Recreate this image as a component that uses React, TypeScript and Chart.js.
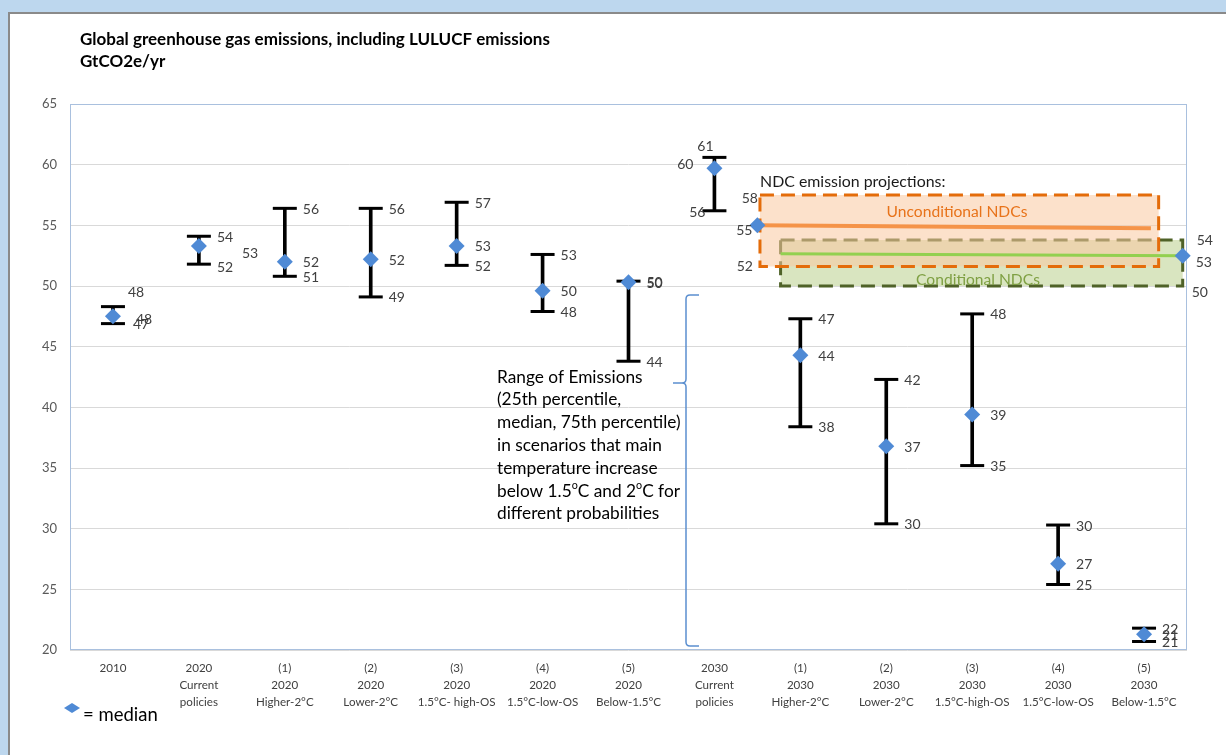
import React, { useEffect, useRef } from "react";
import { Chart, registerables } from "chart.js";

Chart.register(...registerables);

const FONT = "Lato, 'Open Sans', Arial, sans-serif";

// ---------- data ----------
const categories: string[][] = [
  ["2010"],
  ["2020", "Current", "policies"],
  ["(1)", "2020", "Higher-2°C"],
  ["(2)", "2020", "Lower-2°C"],
  ["(3)", "2020", "1.5°C- high-OS"],
  ["(4)", "2020", "1.5°C-low-OS"],
  ["(5)", "2020", "Below-1.5°C"],
  ["2030", "Current", "policies"],
  ["(1)", "2030", "Higher-2°C"],
  ["(2)", "2030", "Lower-2°C"],
  ["(3)", "2030", "1.5°C-high-OS"],
  ["(4)", "2030", "1.5°C-low-OS"],
  ["(5)", "2030", "Below-1.5°C"],
];

const p75 = [48.3, 54.1, 56.4, 56.4, 56.9, 52.6, 50.4, 60.6, 47.3, 42.3, 47.7, 30.3, 21.8];
const medians = [47.5, 53.3, 52.0, 52.2, 53.3, 49.6, 50.3, 59.7, 44.3, 36.8, 39.4, 27.1, 21.3];
const p25 = [46.9, 51.8, 50.8, 49.1, 51.7, 47.9, 43.8, 56.2, 38.4, 30.4, 35.2, 25.4, 20.7];

const yTicks = [20, 25, 30, 35, 40, 45, 50, 55, 60, 65];

// NDC emission projections (x in category-index units)
const ndcUncondX = [7.53, 12.17];
const ndcUncondRange = [51.6, 57.5];
const ndcUncondLineX = [7.5, 12.08];
const ndcUncondLineY = [55.0, 54.75];
const ndcUncondMedian = [7.5, 55.0];

const ndcCondX = [7.77, 12.45];
const ndcCondRange = [50.0, 53.8];
const ndcCondLineX = [7.77, 12.45];
const ndcCondLineY = [52.65, 52.5];
const ndcCondMedian = [12.45, 52.5];

// ---------- label layout ----------
type Place = { dx: number; dy: number; align: CanvasTextAlign };
const defPlace = (): { hi: Place; med: Place; lo: Place } => ({
  hi: { dx: 18, dy: 1, align: "left" },
  med: { dx: 18, dy: 1, align: "left" },
  lo: { dx: 18, dy: 1, align: "left" },
});
const placeOverrides: Record<number, Partial<{ hi: Place; med: Place; lo: Place }>> = {
  0: {
    hi: { dx: 15, dy: -14, align: "left" },
    med: { dx: 23, dy: 3, align: "left" },
    lo: { dx: 20, dy: 1, align: "left" },
  },
  1: { med: { dx: 43, dy: 8, align: "left" }, lo: { dx: 18, dy: 3, align: "left" } },
  7: {
    hi: { dx: -9, dy: -11, align: "center" },
    med: { dx: -21, dy: -4, align: "right" },
    lo: { dx: -9, dy: 2, align: "right" },
  },
};

const rangeText: [string, boolean][][] = [
  [["Range of Emissions", false]],
  [["(25th percentile,", false]],
  [["median, 75th percentile)", false]],
  [["in scenarios that main", false]],
  [["temperature increase", false]],
  [["below 1.5", false], ["o", true], ["C and 2", false], ["o", true], ["C for", false]],
  [["different probabilities", false]],
];

const BLUE = "#4F8AD5";

function drawRich(ctx: CanvasRenderingContext2D, parts: [string, boolean][], x: number, y: number, size: number) {
  let cx = x;
  for (const [t, sup] of parts) {
    ctx.font = `${sup ? size * 0.62 : size}px ${FONT}`;
    ctx.fillText(t, cx, sup ? y - size * 0.3 : y);
    cx += ctx.measureText(t).width;
  }
}

const annotationPlugin = {
  id: "annotations",
  beforeDatasetsDraw(chart: any) {
    const { ctx, chartArea: a } = chart;
    ctx.save();
    ctx.strokeStyle = "#A9C0DE";
    ctx.lineWidth = 1;
    ctx.strokeRect(a.left + 0.5, a.top + 0.5, a.right - a.left - 1, a.bottom - a.top - 1);
    ctx.restore();
  },
  afterDatasetsDraw(chart: any) {
    const { ctx } = chart;
    const xs = chart.scales.x;
    const ys = chart.scales.y;
    ctx.save();
    ctx.textBaseline = "middle";

    // value labels
    ctx.fillStyle = "#404040";
    ctx.font = `14px ${FONT}`;
    categories.forEach((_, i) => {
      const pl = { ...defPlace(), ...(placeOverrides[i] || {}) };
      const x = xs.getPixelForValue(i);
      const items: [number, Place][] = [
        [p75[i], pl.hi],
        [medians[i], pl.med],
        [p25[i], pl.lo],
      ];
      for (const [v, p] of items) {
        ctx.textAlign = p.align;
        ctx.fillText(String(Math.round(v)), x + p.dx, ys.getPixelForValue(v) + p.dy);
      }
    });

    // NDC labels
    const uxl = xs.getPixelForValue(ndcUncondX[0]);
    ctx.textAlign = "right";
    ctx.fillText(String(Math.round(ndcUncondRange[1])), uxl - 2, ys.getPixelForValue(ndcUncondRange[1]) + 3);
    ctx.fillText(String(Math.round(ndcUncondMedian[1])), xs.getPixelForValue(ndcUncondMedian[0]) - 5, ys.getPixelForValue(ndcUncondMedian[1]) + 5);
    ctx.fillText(String(Math.round(ndcUncondRange[0])), uxl - 7, ys.getPixelForValue(ndcUncondRange[0]));
    const cxr = xs.getPixelForValue(ndcCondX[1]);
    ctx.textAlign = "left";
    ctx.fillText(String(Math.round(ndcCondRange[1])), cxr + 14, ys.getPixelForValue(ndcCondRange[1]) + 1);
    ctx.fillText(String(Math.round(ndcCondMedian[1])), xs.getPixelForValue(ndcCondMedian[0]) + 13, ys.getPixelForValue(ndcCondMedian[1]) + 7);
    ctx.fillText(String(Math.round(ndcCondRange[0])), cxr + 9, ys.getPixelForValue(ndcCondRange[0]) + 6);

    // NDC text
    ctx.textAlign = "left";
    ctx.fillStyle = "#1a1a1a";
    ctx.font = `15.9px ${FONT}`;
    ctx.fillText("NDC emission projections:", 760, 182);
    ctx.textAlign = "center";
    ctx.font = `15.6px ${FONT}`;
    ctx.fillStyle = "#E8731A";
    ctx.fillText("Unconditional NDCs", 957, 212);
    ctx.fillStyle = "#7FA043";
    ctx.fillText("Conditional NDCs", 978, 280);

    // title
    ctx.textAlign = "left";
    ctx.fillStyle = "#000";
    ctx.font = `bold 17px ${FONT}`;
    ctx.fillText("Global greenhouse gas emissions, including LULUCF emissions", 80, 40);
    ctx.fillText("GtCO2e/yr", 80, 62);

    // range text
    ctx.fillStyle = "#000";
    rangeText.forEach((parts, k) => drawRich(ctx, parts, 497, 377 + k * 22.8, 17.3));

    // brace
    ctx.strokeStyle = "#5B8FD0";
    ctx.lineWidth = 1.5;
    ctx.beginPath();
    ctx.moveTo(699, 295);
    ctx.lineTo(690, 295);
    ctx.quadraticCurveTo(686, 295, 686, 299);
    ctx.lineTo(686, 379);
    ctx.quadraticCurveTo(686, 383, 682, 383);
    ctx.lineTo(673, 383);
    ctx.moveTo(682, 383);
    ctx.quadraticCurveTo(686, 383, 686, 387);
    ctx.lineTo(686, 642);
    ctx.quadraticCurveTo(686, 646, 690, 646);
    ctx.lineTo(699, 646);
    ctx.stroke();

    // legend
    ctx.fillStyle = BLUE;
    ctx.beginPath();
    ctx.moveTo(64, 708);
    ctx.lineTo(72, 703);
    ctx.lineTo(80, 708);
    ctx.lineTo(72, 713);
    ctx.closePath();
    ctx.fill();
    ctx.fillStyle = "#000";
    ctx.textAlign = "left";
    ctx.font = `18.5px ${FONT}`;
    ctx.fillText("= median", 83, 715);

    ctx.restore();
  },
};

function rect(xr: number[], yr: number[]) {
  return [
    { x: xr[0], y: yr[1] },
    { x: xr[1], y: yr[1] },
    { x: xr[1], y: yr[0] },
    { x: xr[0], y: yr[0] },
    { x: xr[0], y: yr[1] },
  ];
}

export default function App() {
  const ref = useRef<HTMLCanvasElement>(null);

  useEffect(() => {
    document.body.style.margin = "0";
    const canvas = ref.current;
    if (!canvas) return;
    const chart = new Chart(canvas, {
      type: "scatter",
      data: {
        datasets: [
          {
            type: "line",
            label: "Conditional NDCs box",
            data: rect(ndcCondX, ndcCondRange),
            borderColor: "#4F6228",
            borderWidth: 3,
            borderDash: [14, 7],
            backgroundColor: "rgba(215,228,189,0.95)",
            fill: "shape",
            pointRadius: 0,
            tension: 0,
            clip: false,
            order: 10,
          } as any,
          {
            type: "line",
            label: "Unconditional NDCs box",
            data: rect(ndcUncondX, ndcUncondRange),
            borderColor: "#E46C0A",
            borderWidth: 3,
            borderDash: [14, 7],
            backgroundColor: "rgba(250,200,160,0.55)",
            fill: "shape",
            pointRadius: 0,
            tension: 0,
            clip: false,
            order: 9,
          } as any,
          {
            type: "bar",
            label: "range",
            data: categories.map((_, i) => ({ x: i, y: [p25[i], p75[i]] })),
            backgroundColor: "#000",
            barThickness: 3,
            order: 5,
          } as any,
          {
            type: "scatter",
            label: "caps",
            data: [
              ...categories.map((_, i) => ({ x: i, y: p75[i] })),
              ...categories.map((_, i) => ({ x: i, y: p25[i] })),
            ],
            pointStyle: "line",
            pointRadius: 12,
            borderColor: "#000",
            borderWidth: 3,
            order: 4,
          } as any,
          {
            type: "line",
            label: "Unconditional NDCs",
            data: ndcUncondLineX.map((x, i) => ({ x, y: ndcUncondLineY[i] })),
            borderColor: "rgba(245,140,60,0.9)",
            borderWidth: 4,
            pointRadius: 0,
            fill: false,
            order: 3,
          } as any,
          {
            type: "line",
            label: "Conditional NDCs",
            data: ndcCondLineX.map((x, i) => ({ x, y: ndcCondLineY[i] })),
            borderColor: "#92D050",
            borderWidth: 3,
            pointRadius: 0,
            fill: false,
            order: 3,
          } as any,
          {
            type: "scatter",
            label: "median",
            data: [
              ...categories.map((_, i) => ({ x: i, y: medians[i] })),
              { x: ndcUncondMedian[0], y: ndcUncondMedian[1] },
              { x: ndcCondMedian[0], y: ndcCondMedian[1] },
            ],
            pointStyle: "rectRot",
            pointRadius: 8,
            backgroundColor: BLUE,
            borderColor: BLUE,
            borderWidth: 0,
            clip: false,
            order: 1,
          } as any,
        ],
      },
      options: {
        responsive: false,
        maintainAspectRatio: false,
        animation: false,
        events: [],
        layout: { padding: { left: 10, right: 39, top: 104, bottom: 45 } },
        plugins: {
          legend: { display: false },
          tooltip: { enabled: false },
        },
        scales: {
          x: {
            type: "linear",
            offset: false,
            min: -0.5,
            max: categories.length - 0.5,
            afterFit: (s: any) => {
              s.height = 60;
            },
            afterBuildTicks: (s: any) => {
              s.ticks = categories.map((_, i) => ({ value: i }));
            },
            grid: { display: false, drawTicks: false, offset: false },
            border: { display: false },
            ticks: {
              autoSkip: false,
              maxRotation: 0,
              minRotation: 0,
              padding: 10,
              color: "#404040",
              font: { family: FONT, size: 11.6, lineHeight: 1.45 },
              callback: (v: any) => categories[Math.round(Number(v))] ?? "",
            },
          },
          y: {
            min: 20,
            max: 65,
            afterFit: (s: any) => {
              s.width = 60;
            },
            afterBuildTicks: (s: any) => {
              s.ticks = yTicks.map((v) => ({ value: v }));
            },
            grid: { color: "#D9D9D9", lineWidth: 1, drawTicks: false },
            border: { display: false },
            ticks: {
              padding: 13,
              color: "#595959",
              font: { family: FONT, size: 13 },
            },
          },
        },
      },
      plugins: [annotationPlugin],
    });
    return () => chart.destroy();
  }, []);

  return (
    <div style={{ position: "relative", width: 1226, height: 755, background: "#BDD7EE", overflow: "hidden" }}>
      <div
        style={{
          position: "absolute",
          left: 8,
          top: 12,
          right: 0,
          bottom: 0,
          background: "#fff",
          borderLeft: "2px solid #8A8A8A",
          borderTop: "2px solid #8A8A8A",
        }}
      />
      <canvas ref={ref} width={1226} height={755} style={{ position: "absolute", left: 0, top: 0 }} />
    </div>
  );
}
